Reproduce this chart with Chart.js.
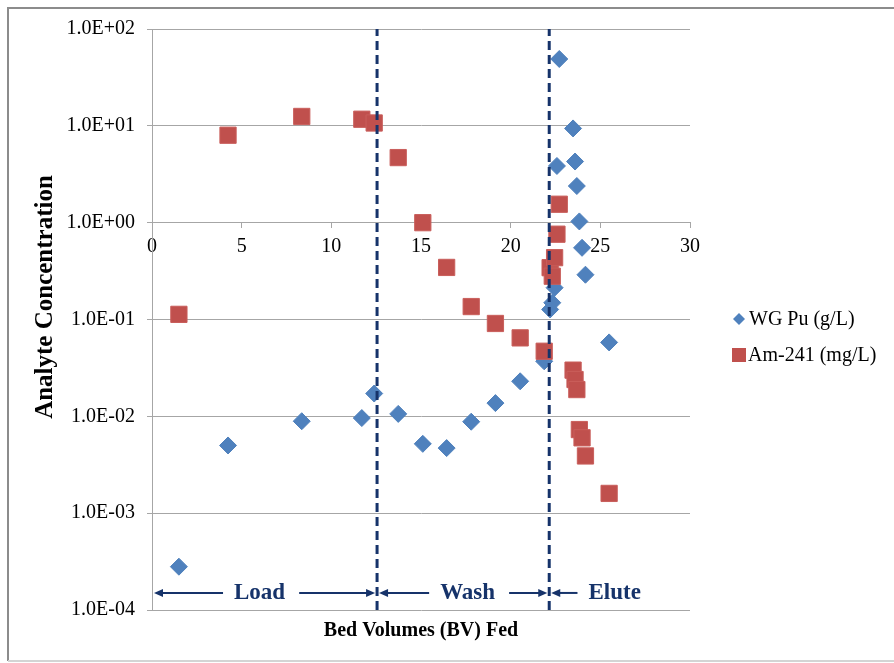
<!DOCTYPE html>
<html>
<head>
<meta charset="utf-8">
<script src="https://cdn.jsdelivr.net/npm/chart.js@4.4.1/dist/chart.umd.min.js"></script>
<style>
  html, body { margin: 0; padding: 0; background: #fff; }
  #wrap { width: 894px; height: 663px; }
</style>
</head>
<body>
<div id="wrap"><canvas id="chart" width="894" height="663"></canvas></div>
<script>
// Column run: bed volumes fed and analyte concentrations per sample
const bedVolumes = [1.5, 4.24, 8.35, 11.7, 12.39, 13.73, 15.1, 16.43, 17.8, 19.15, 20.53, 21.87,
                    22.2, 22.32, 22.45, 22.58, 22.71, 23.48, 23.59, 23.69, 23.83, 23.98, 24.17, 25.49];
const wgPu  = [0.00028, 0.0050, 0.0089, 0.0096, 0.0172, 0.0106, 0.0052, 0.0047, 0.0088, 0.0137, 0.023, 0.037,
               0.127, 0.149, 0.213, 3.85, 49, 9.4, 4.28, 2.39, 1.03, 0.55, 0.29, 0.058];
const am241 = [0.113, 8.0, 12.5, 11.7, 10.7, 4.7, 1.0, 0.345, 0.136, 0.091, 0.0646, 0.047,
               0.343, 0.28, 0.435, 0.76, 1.55, 0.030, 0.024, 0.0189, 0.0073, 0.006, 0.0039, 0.0016];
const seriesNames = ['WG Pu (g/L)', 'Am-241 (mg/L)'];

// Process phases: boundaries between Load / Wash / Elute (in BV)
const phaseBoundaries = [12.55, 22.15];
const phaseNames = ['Load', 'Wash', 'Elute'];
const phaseLabelX = [6.0, 17.6, 25.8];
const phaseArrowLevel = 1.5e-4;

// Axis ticks and titles
const xTicks = [0, 5, 10, 15, 20, 25, 30];
const yTickValues = [1e-4, 1e-3, 1e-2, 1e-1, 1, 10, 100];
const yTickLabels = ['1.0E-04', '1.0E-03', '1.0E-02', '1.0E-01', '1.0E+00', '1.0E+01', '1.0E+02'];
const xTitle = 'Bed Volumes (BV) Fed';
const yTitle = 'Analyte Concentration';

const FAMILY = "'Liberation Serif', 'Times New Roman', serif";
const NAVY = '#16336A';
const BLUE = '#4F81BD';
const RED = '#C0504D';
const GRID = '#A6A6A6';

const toPoints = ys => bedVolumes.map((x, i) => ({ x, y: ys[i] }));
const yMin = yTickValues[0], yMax = yTickValues[yTickValues.length - 1];

const boundaryDatasets = phaseBoundaries.map(b => ({
  type: 'line',
  data: [{ x: b, y: yMin }, { x: b, y: yMax }],
  borderColor: NAVY,
  borderWidth: 3,
  borderDash: [9, 5],
  pointRadius: 0,
  showLine: true,
  fill: false,
  order: 0
}));

// Page frame
const framePlugin = {
  id: 'frame',
  beforeDraw(chart) {
    const ctx = chart.ctx;
    ctx.save();
    ctx.fillStyle = '#fff';
    ctx.fillRect(0, 0, chart.width, chart.height);
    ctx.strokeStyle = '#8C8C8C';
    ctx.lineWidth = 2;
    ctx.beginPath();
    ctx.moveTo(8, chart.height - 2);
    ctx.lineTo(8, 8);
    ctx.lineTo(chart.width, 8);
    ctx.stroke();
    ctx.strokeStyle = '#D4D4D4';
    ctx.beginPath();
    ctx.moveTo(8, chart.height - 2);
    ctx.lineTo(chart.width, chart.height - 2);
    ctx.stroke();
    ctx.restore();
  }
};

// Vertical caption for the concentration axis
const yCaptionPlugin = {
  id: 'yCaption',
  afterDraw(chart) {
    const ctx = chart.ctx;
    ctx.save();
    ctx.translate(46, 297);
    ctx.rotate(-Math.PI / 2);
    ctx.font = 'bold 25px ' + FAMILY;
    ctx.fillStyle = '#000';
    ctx.textAlign = 'center';
    ctx.textBaseline = 'middle';
    ctx.fillText(yTitle, 0, 0);
    ctx.restore();
  }
};

// Load / Wash / Elute arrows along the bottom of the plot
function arrowHead(ctx, x, y, dir) {
  ctx.beginPath();
  ctx.moveTo(x, y);
  ctx.lineTo(x - dir * 9, y - 4);
  ctx.lineTo(x - dir * 9, y + 4);
  ctx.closePath();
  ctx.fill();
}
const phasePlugin = {
  id: 'phases',
  afterDatasetsDraw(chart) {
    const ctx = chart.ctx;
    const xs = chart.scales.x, ys = chart.scales.y;
    const y = ys.getPixelForValue(phaseArrowLevel);
    ctx.save();
    ctx.font = 'bold 23px ' + FAMILY;
    ctx.fillStyle = NAVY;
    ctx.strokeStyle = NAVY;
    ctx.lineWidth = 2;
    ctx.textAlign = 'center';
    ctx.textBaseline = 'middle';
    phaseNames.forEach((name, i) => {
      const start = i === 0 ? xs.min : phaseBoundaries[i - 1];
      const end = i < phaseBoundaries.length ? phaseBoundaries[i] : null;
      const cx = xs.getPixelForValue(phaseLabelX[i]);
      const w = ctx.measureText(name).width;
      ctx.fillText(name, cx, y);
      const sp = xs.getPixelForValue(start) + 2;
      ctx.beginPath();
      ctx.moveTo(sp + 6, y);
      ctx.lineTo(cx - w / 2 - 11, y);
      ctx.stroke();
      arrowHead(ctx, sp, y, -1);
      if (end !== null) {
        const ep = xs.getPixelForValue(end) - 2;
        ctx.beginPath();
        ctx.moveTo(cx + w / 2 + 14, y);
        ctx.lineTo(ep - 6, y);
        ctx.stroke();
        arrowHead(ctx, ep, y, 1);
      }
    });
    ctx.restore();
  }
};

// Series key on the right
const keyPlugin = {
  id: 'seriesKey',
  afterDraw(chart) {
    const ctx = chart.ctx;
    ctx.save();
    ctx.font = '20px ' + FAMILY;
    ctx.textAlign = 'left';
    ctx.textBaseline = 'middle';
    let cx = 739, cy = 319, r = 6;
    ctx.fillStyle = BLUE;
    ctx.beginPath();
    ctx.moveTo(cx - r, cy); ctx.lineTo(cx, cy - r); ctx.lineTo(cx + r, cy); ctx.lineTo(cx, cy + r);
    ctx.closePath(); ctx.fill();
    ctx.fillStyle = '#000';
    ctx.fillText(seriesNames[0], 749, cy + 1);
    cy = 355;
    ctx.fillStyle = RED;
    ctx.fillRect(cx - 7, cy - 7, 14, 14);
    ctx.fillStyle = '#000';
    ctx.fillText(seriesNames[1], 748, cy + 1);
    ctx.restore();
  }
};

new Chart(document.getElementById('chart'), {
  type: 'scatter',
  data: {
    datasets: [
      {
        label: seriesNames[0],
        data: toPoints(wgPu),
        pointStyle: 'rectRot',
        pointRadius: 8.5,
        pointHoverRadius: 8.5,
        backgroundColor: BLUE,
        borderColor: BLUE,
        borderWidth: 1,
        order: 2
      },
      {
        label: seriesNames[1],
        data: toPoints(am241),
        pointStyle: 'rect',
        pointRadius: 11.5,
        pointHoverRadius: 11.5,
        backgroundColor: RED,
        borderColor: '#C95E5B',
        borderWidth: 1,
        order: 1
      },
      ...boundaryDatasets
    ]
  },
  options: {
    responsive: false,
    animation: false,
    devicePixelRatio: 1,
    layout: { padding: { left: 0, right: 204, top: 29, bottom: 0 } },
    plugins: { legend: { display: false }, tooltip: { enabled: false } },
    scales: {
      x: {
        type: 'linear',
        position: { y: 1 },
        min: 0,
        max: 30,
        afterBuildTicks: s => { s.ticks = xTicks.map(v => ({ value: v })); },
        afterFit: s => { s.height = 0; },
        ticks: { font: { family: FAMILY, size: 20 }, color: '#000', padding: 7, maxRotation: 0, autoSkip: false,
                 callback: v => String(v) },
        grid: { drawOnChartArea: false, drawTicks: true, tickLength: 5, color: GRID },
        border: { display: true, color: GRID, width: 1 }
      },
      xTitle: {
        type: 'linear',
        axis: 'x',
        position: 'bottom',
        min: 0,
        max: 30,
        afterFit: s => { s.height = 53; },
        ticks: { display: false },
        grid: { display: false },
        border: { display: false },
        title: { display: true, text: xTitle, color: '#000',
                 font: { family: FAMILY, size: 20, weight: 'bold' }, padding: { top: 0, bottom: 20 } }
      },
      y: {
        type: 'logarithmic',
        position: 'left',
        min: yMin,
        max: yMax,
        afterBuildTicks: s => { s.ticks = yTickValues.map(v => ({ value: v })); },
        afterFit: s => { s.width = 152; },
        ticks: { font: { family: FAMILY, size: 20 }, color: '#000', padding: 12, autoSkip: false,
                 callback: (v, i) => yTickLabels[i] },
        grid: { color: GRID, lineWidth: 1, drawTicks: true, tickLength: 5 },
        border: { display: true, color: GRID, width: 1 }
      }
    }
  },
  plugins: [framePlugin, phasePlugin, keyPlugin, yCaptionPlugin]
});
</script>
</body>
</html>
